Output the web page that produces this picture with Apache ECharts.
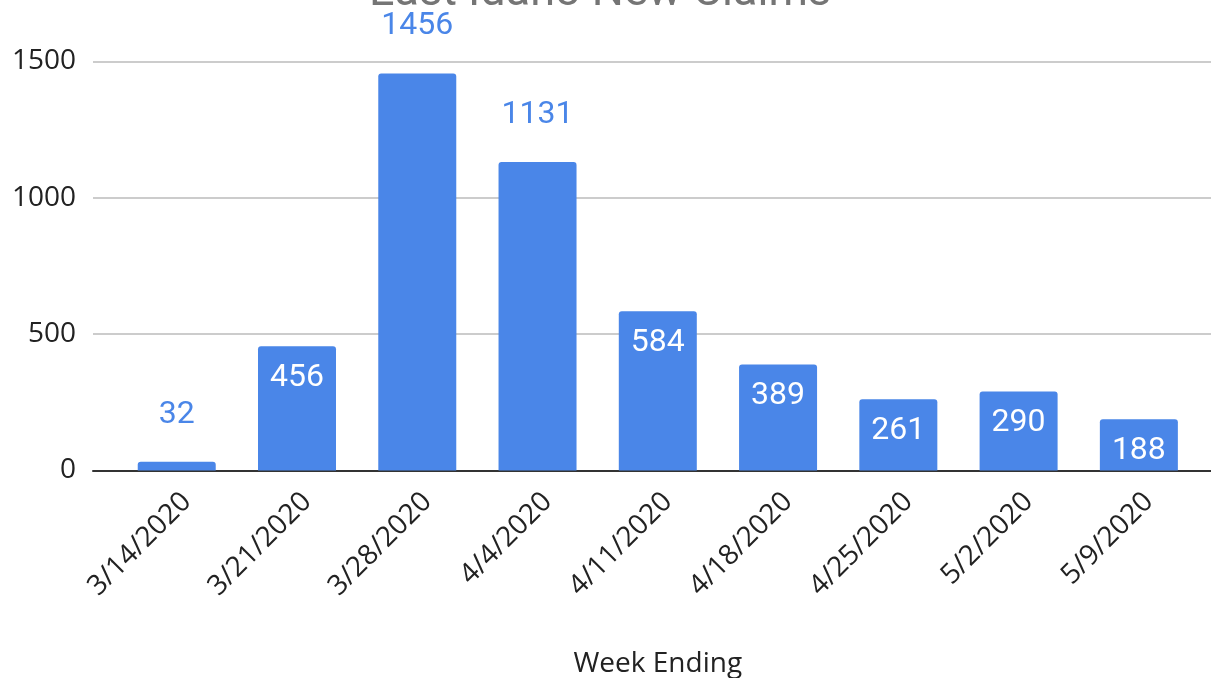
<!DOCTYPE html>
<html>
<head>
<meta charset="utf-8">
<script src="https://cdn.jsdelivr.net/npm/echarts@6/dist/echarts.min.js"></script>
<style>
  html, body { margin: 0; padding: 0; background: #fff; }
  #chart { width: 1211px; height: 678px; }
</style>
</head>
<body>
<div id="chart"></div>
<script>
// data
var weeks = ["3/14/2020", "3/21/2020", "3/28/2020", "4/4/2020", "4/11/2020",
             "4/18/2020", "4/25/2020", "5/2/2020", "5/9/2020"];
var claims = [32, 456, 1456, 1131, 584, 389, 261, 290, 188];
var yTicks = [0, 500, 1000, 1500];

var blue = "#4a86e8";

// labels go above the bar when the bar is very short or very tall
var barData = claims.map(function (v) {
  var outside = v < 100 || v > 1000;
  return {
    value: v,
    label: outside
      ? { position: "top", distance: 31, color: blue }
      : { position: "insideTop", distance: 16, color: "#fff" }
  };
});

var chart = echarts.init(document.getElementById("chart"));
chart.setOption({
  backgroundColor: "#fff",
  animation: false,
  title: {
    text: "East Idaho New Claims",
    left: 595,
    textAlign: "center",
    top: -34,
    textStyle: {
      fontFamily: "Roboto",
      fontWeight: "normal",
      fontSize: 45,
      color: "#757575"
    }
  },
  grid: [
    { left: 93, right: 0, top: 61.5, bottom: 207.5, outerBoundsMode: "none" },
    { left: 116.6, right: 12, top: 61.5, bottom: 207.5, outerBoundsMode: "none" }
  ],
  xAxis: [
    {
      gridIndex: 0,
      type: "value",
      min: 0,
      max: 1,
      axisLine: { show: true, onZero: false, lineStyle: { color: "#333", width: 2 } },
      axisTick: { show: false },
      axisLabel: { show: false },
      splitLine: { show: false }
    },
    {
      gridIndex: 1,
      type: "category",
      data: weeks,
      axisLine: { show: false },
      axisTick: { show: false },
      axisLabel: {
        interval: 0,
        rotate: 45,
        margin: 17,
        verticalAlign: "top",
        fontFamily: "Open Sans",
        fontSize: 28,
        color: "#222"
      },
      name: "Week Ending",
      nameLocation: "middle",
      nameGap: 180,
      nameTextStyle: {
        fontFamily: "Open Sans",
        fontSize: 28,
        color: "#222"
      }
    }
  ],
  yAxis: [
    {
      gridIndex: 0,
      type: "value",
      min: yTicks[0],
      max: yTicks[yTicks.length - 1],
      interval: yTicks[1] - yTicks[0],
      axisLine: { show: false },
      axisTick: { show: false },
      axisLabel: {
        margin: 17,
        fontFamily: "Open Sans",
        fontSize: 28,
        color: "#222",
        formatter: function (v) { return String(v); }
      },
      splitLine: { lineStyle: { color: "#cccccc", width: 2 } }
    },
    {
      gridIndex: 1,
      type: "value",
      min: yTicks[0],
      max: yTicks[yTicks.length - 1],
      show: false
    }
  ],
  series: [
    {
      type: "bar",
      xAxisIndex: 1,
      yAxisIndex: 1,
      data: barData,
      barWidth: 78,
      itemStyle: { color: blue, borderRadius: [3, 3, 0, 0] },
      label: {
        show: true,
        fontFamily: "Roboto",
        fontSize: 32
      }
    }
  ]
});
</script>
</body>
</html>
